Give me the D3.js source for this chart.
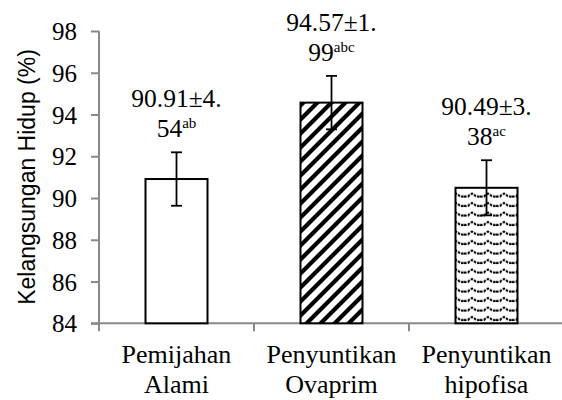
<!DOCTYPE html>
<html>
<head>
<meta charset="utf-8">
<script src="https://cdn.jsdelivr.net/npm/d3@7"></script>
<style>
  body { margin: 0; background: #fff; }
  .tick-lbl { font: 25px "Liberation Serif", "Times New Roman", serif; fill: #000; }
  .cat-lbl { font: 26px "Liberation Serif", "Times New Roman", serif; fill: #000; }
  .val-lbl { font: 25.5px "Liberation Serif", "Times New Roman", serif; fill: #000; }
</style>
</head>
<body>
<div id="chart"></div>
<script>
var categories = [ ['Pemijahan', 'Alami'], ['Penyuntikan', 'Ovaprim'], ['Penyuntikan', 'hipofisa'] ];
var values = [ 90.91, 94.57, 90.49 ];
var errors = [ 1.28, 1.28, 1.32 ];
var labelLine1 = [ '90.91\u00b14.', '94.57\u00b11.', '90.49\u00b13.' ];
var labelLine2 = [ '54', '99', '38' ];
var labelSup = [ 'ab', 'abc', 'ac' ];
var fills = [ 'white', 'url(#stripes)', 'url(#waves)' ];
var yTicks = [ 84, 86, 88, 90, 92, 94, 96, 98 ];

var width = 562, height = 400
  , mLeft = 99, mRight = 564, mTop = 31, mBottom = 323.3
  , axisColor = '#898989'
  ;

var svg = d3.select('#chart').append('svg')
    .attr('width', width)
    .attr('height', height);

// patterns
var defs = svg.append('defs');
var p1 = defs.append('pattern')
    .attr('id', 'stripes')
    .attr('patternUnits', 'userSpaceOnUse')
    .attr('width', 14).attr('height', 14);
p1.append('rect').attr('width', 14).attr('height', 14).attr('fill', 'white');
p1.append('path')
    .attr('d', 'M-3.5,3.5 L3.5,-3.5 M0,14 L14,0 M10.5,17.5 L17.5,10.5')
    .attr('stroke', 'black')
    .attr('stroke-width', 4.2);

var p2 = defs.append('pattern')
    .attr('id', 'waves')
    .attr('patternUnits', 'userSpaceOnUse')
    .attr('width', 16).attr('height', 9.5);
p2.append('rect').attr('width', 16).attr('height', 9.5).attr('fill', 'white');
p2.append('path')
    .attr('d', 'M0,6.5 L4,6.5 L6,4.5 L8,3.5 L10,4.5 L12,6.5 L16,6.5')
    .attr('fill', 'none')
    .attr('stroke', 'black')
    .attr('stroke-width', 2)
    .attr('stroke-dasharray', '2.6 1.2');

var x = d3.scaleBand()
    .domain(d3.range(values.length))
    .range([mLeft, mRight])
    .paddingInner(0.6)
    .paddingOuter(0.3);

var y = d3.scaleLinear()
    .domain([84, 98])
    .range([mBottom, mTop]);

// y axis
var yAxis = svg.append('g')
    .attr('transform', 'translate(' + mLeft + ',0)')
    .call(d3.axisLeft(y).tickValues(yTicks).tickSize(8).tickFormat(d3.format('d')));
yAxis.attr('font-family', null).attr('font-size', null);
yAxis.select('.domain').attr('stroke', axisColor).attr('stroke-width', 2)
    .attr('d', 'M0,' + mTop + 'V' + mBottom);
yAxis.selectAll('.tick line').attr('stroke', axisColor).attr('stroke-width', 2);
yAxis.selectAll('.tick text')
    .attr('class', 'tick-lbl')
    .attr('x', -22)
    .attr('dy', '0.34em');

// x axis
var bounds = d3.range(values.length + 1).map(function(i) {
  return mLeft + i * x.step();
});
var xAxis = svg.append('g');
xAxis.append('line')
    .attr('x1', mLeft - 8).attr('x2', mRight)
    .attr('y1', mBottom).attr('y2', mBottom)
    .attr('stroke', axisColor).attr('stroke-width', 2);
xAxis.selectAll('.xt').data(bounds).enter().append('line')
    .attr('class', 'xt')
    .attr('x1', d => d).attr('x2', d => d)
    .attr('y1', mBottom).attr('y2', mBottom + 8)
    .attr('stroke', axisColor).attr('stroke-width', 2);

var catText = xAxis.selectAll('.cat-lbl').data(categories).enter().append('text')
    .attr('class', 'cat-lbl')
    .attr('text-anchor', 'middle');
catText.append('tspan')
    .attr('x', (d, i) => x(i) + x.bandwidth() / 2)
    .attr('y', 363)
    .text(d => d[0]);
catText.append('tspan')
    .attr('x', (d, i) => x(i) + x.bandwidth() / 2)
    .attr('y', 393)
    .text(d => d[1]);

// bars
svg.append('g').selectAll('rect').data(values).enter().append('rect')
    .attr('x', (d, i) => x(i))
    .attr('width', x.bandwidth())
    .attr('y', d => y(d))
    .attr('height', d => mBottom - y(d))
    .attr('fill', (d, i) => fills[i])
    .attr('stroke', 'black')
    .attr('stroke-width', 2);

// error bars
var cx = i => x(i) + x.bandwidth() / 2;
var eb = svg.append('g').selectAll('g').data(values).enter().append('g')
    .attr('stroke', 'black').attr('stroke-width', 1.8);
eb.append('line')
    .attr('x1', (d, i) => cx(i))
    .attr('x2', (d, i) => cx(i))
    .attr('y1', (d, i) => y(d + errors[i]))
    .attr('y2', (d, i) => y(d - errors[i]));
eb.append('line')
    .attr('x1', (d, i) => cx(i) - 5.5)
    .attr('x2', (d, i) => cx(i) + 5.5)
    .attr('y1', (d, i) => y(d + errors[i]))
    .attr('y2', (d, i) => y(d + errors[i]));
eb.append('line')
    .attr('x1', (d, i) => cx(i) - 5.5)
    .attr('x2', (d, i) => cx(i) + 5.5)
    .attr('y1', (d, i) => y(d - errors[i]))
    .attr('y2', (d, i) => y(d - errors[i]));

// value labels
var lbl = svg.append('g').selectAll('g').data(values).enter().append('g');
lbl.append('text')
    .attr('class', 'val-lbl')
    .attr('text-anchor', 'middle')
    .attr('x', (d, i) => cx(i))
    .attr('y', (d, i) => y(d + errors[i]) - 45)
    .text((d, i) => labelLine1[i]);
var l2 = lbl.append('text')
    .attr('class', 'val-lbl')
    .attr('text-anchor', 'middle')
    .attr('x', (d, i) => cx(i))
    .attr('y', (d, i) => y(d + errors[i]) - 15);
l2.append('tspan').text((d, i) => labelLine2[i]);
l2.append('tspan')
    .attr('dy', -9)
    .style('font-size', '15px')
    .text((d, i) => labelSup[i]);

// y title
svg.append('text')
    .attr('transform', 'translate(35,177) rotate(-90)')
    .attr('text-anchor', 'middle')
    .style('font', '23px "Liberation Sans", Arial, sans-serif')
    .text('Kelangsungan Hidup (%)');
</script>
</body>
</html>
